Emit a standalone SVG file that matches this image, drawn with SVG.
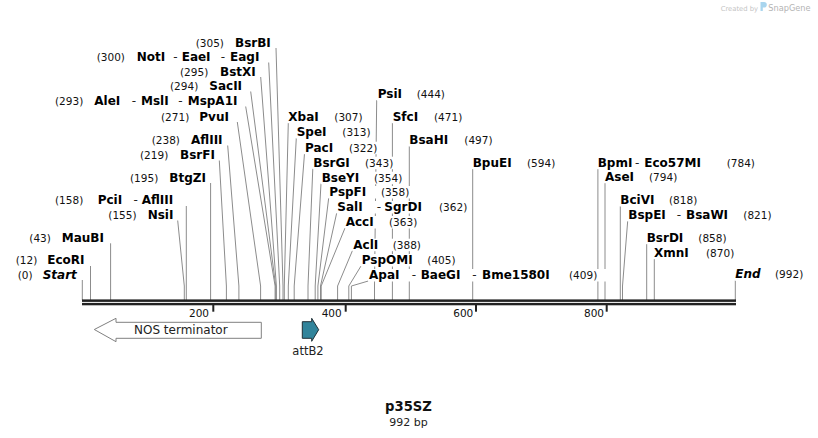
<svg xmlns="http://www.w3.org/2000/svg" width="818" height="438" viewBox="0 0 818 438">
<style>
.n{font-family:'DejaVu Sans',Verdana,sans-serif;font-weight:bold;font-size:12px;fill:#000}
.i{font-family:'DejaVu Sans',Verdana,sans-serif;font-weight:bold;font-style:italic;font-size:12px;fill:#000}
.p{font-family:'DejaVu Sans',Verdana,sans-serif;font-size:10.5px;fill:#111}
.d{font-family:'DejaVu Sans',Verdana,sans-serif;font-size:12px;fill:#222}
.bg{fill:#fff}
.c{fill:none;stroke:#8c8c8c;stroke-width:1}
.ax{fill:#222}
.tl{font-family:'DejaVu Sans',Verdana,sans-serif;font-size:10.5px;fill:#111;text-anchor:end}
</style>
<rect width="818" height="438" fill="#fff"/>

<g id="watermark">
<text x="720.7" y="10.5" font-family="'DejaVu Sans',sans-serif" font-size="6.8" fill="#c4c4c4">Created by</text>
<path d="M760.5 2 h3.5 a2.8 2.8 0 0 1 0 5.6 h-1.2 v3.4 h-2.3 z" fill="#a9d5ee"/>
<text x="768.3" y="11" font-family="'DejaVu Sans',sans-serif" font-size="8.2" fill="#b4b4b4">SnapGene</text>
</g>

<g id="connectors">
<polyline class="c" points="276,48 283,286 283,300"/>
<polyline class="c" points="268.7,62.5 279.7,286 279.7,300"/>
<polyline class="c" points="260.7,77 276.4,286 276.4,300"/>
<polyline class="c" points="250.7,91.5 275.7,286 275.7,300"/>
<polyline class="c" points="245.7,106.5 275.1,286 275.1,300"/>
<polyline class="c" points="237.3,122 260.6,286 260.6,300"/>
<polyline class="c" points="227.7,145.5 238.9,286 238.9,300"/>
<polyline class="c" points="219.3,160.5 226.4,286 226.4,300"/>
<polyline class="c" points="210.6,183 210.6,300"/>
<polyline class="c" points="186.3,206 186.3,300"/>
<polyline class="c" points="177.7,220.5 184.3,286 184.3,300"/>
<polyline class="c" points="110.6,243.3 110.6,300"/>
<polyline class="c" points="90.5,266 90.5,300"/>
<polyline class="c" points="82.3,280 82.3,300"/>
<polyline class="c" points="376.7,100 374.5,286 374.5,300"/>
<polyline class="c" points="288.3,122.7 284.3,286 284.3,300"/>
<polyline class="c" points="392.4,122.7 392.4,300"/>
<polyline class="c" points="296.3,138 288.3,286 288.3,300"/>
<polyline class="c" points="409.3,146 409.3,300"/>
<polyline class="c" points="304.5,153.5 294.2,286 294.2,300"/>
<polyline class="c" points="312.8,168.5 308,286 308,300"/>
<polyline class="c" points="472.7,168.5 472.7,300"/>
<polyline class="c" points="597.9,168.5 597.9,300"/>
<polyline class="c" points="321,183.5 315.2,286 315.2,300"/>
<polyline class="c" points="605,182.5 605,300"/>
<polyline class="c" points="328.7,198 317.9,286 317.9,300"/>
<polyline class="c" points="620.3,206 620.3,300"/>
<polyline class="c" points="336.7,213 320.5,286 320.5,300"/>
<polyline class="c" points="627.7,221 622.5,286 622.5,300"/>
<polyline class="c" points="345,228 321.2,286 321.2,300"/>
<polyline class="c" points="646.7,243.5 646.7,300"/>
<polyline class="c" points="352.5,250.5 337.6,286 337.6,300"/>
<polyline class="c" points="654.3,258.5 654.3,300"/>
<polyline class="c" points="361,266 348.8,286 348.8,300"/>
<polyline class="c" points="368.3,281 351.4,286 351.4,300"/>
<polyline class="c" points="735.3,280 735.3,300"/>
</g>

<g id="BsrBI"><rect class="bg" x="194.7" y="36.5" width="77" height="12.5"/><text class="p" x="195.7" y="46.5">(305)</text><text class="n" x="235" y="46.5">BsrBI</text></g>
<g id="NotI"><rect class="bg" x="95.7" y="51" width="168.6" height="12.5"/><text class="p" x="96.7" y="61">(300)</text><text class="n" x="136.7" y="61">NotI</text><text class="d" x="173.3" y="61">-</text><text class="n" x="181.7" y="61">EaeI</text><text class="d" x="220.7" y="61">-</text><text class="n" x="230" y="61">EagI</text></g>
<g id="BstXI"><rect class="bg" x="179" y="65.5" width="77.7" height="12.5"/><text class="p" x="180" y="75.5">(295)</text><text class="n" x="220" y="75.5">BstXI</text></g>
<g id="SacII"><rect class="bg" x="169" y="80" width="77" height="12.5"/><text class="p" x="170" y="90">(294)</text><text class="n" x="209.3" y="90">SacII</text></g>
<g id="AleI"><rect class="bg" x="54" y="95" width="189.3" height="12.5"/><text class="p" x="55" y="105">(293)</text><text class="n" x="94.3" y="105">AleI</text><text class="d" x="131.7" y="105">-</text><text class="n" x="141" y="105">MslI</text><text class="d" x="178.3" y="105">-</text><text class="n" x="187.7" y="105">MspA1I</text></g>
<g id="PvuI"><rect class="bg" x="160" y="110.5" width="72.7" height="12.5"/><text class="p" x="161" y="120.5">(271)</text><text class="n" x="199.3" y="120.5">PvuI</text></g>
<g id="AflIII"><rect class="bg" x="150.7" y="134" width="72" height="12.5"/><text class="p" x="151.7" y="144">(238)</text><text class="n" x="191" y="144">AflIII</text></g>
<g id="BsrFI"><rect class="bg" x="139" y="149" width="77" height="12.5"/><text class="p" x="140" y="159">(219)</text><text class="n" x="180" y="159">BsrFI</text></g>
<g id="BtgZI"><rect class="bg" x="129" y="171.7" width="78" height="12.5"/><text class="p" x="130" y="181.7">(195)</text><text class="n" x="169.3" y="181.7">BtgZI</text></g>
<g id="PciI"><rect class="bg" x="54" y="194.3" width="124.7" height="12.5"/><text class="p" x="55" y="204.3">(158)</text><text class="n" x="97.7" y="204.3">PciI</text><text class="d" x="133.5" y="204.3">-</text><text class="n" x="141.7" y="204.3">AflIII</text></g>
<g id="NsiI"><rect class="bg" x="107.3" y="209" width="67.7" height="12.5"/><text class="p" x="108.3" y="219">(155)</text><text class="n" x="147.7" y="219">NsiI</text></g>
<g id="MauBI"><rect class="bg" x="28.3" y="231.7" width="76.7" height="12.5"/><text class="p" x="29.3" y="241.7">(43)</text><text class="n" x="61.7" y="241.7">MauBI</text></g>
<g id="EcoRI"><rect class="bg" x="14.7" y="254" width="72.3" height="12.5"/><text class="p" x="15.7" y="264">(12)</text><text class="n" x="47.3" y="264">EcoRI</text></g>
<g id="Start"><rect class="bg" x="16.7" y="269" width="60" height="12.5"/><text class="p" x="17.7" y="279">(0)</text><text class="i" x="42.7" y="279">Start</text></g>

<g id="PsiI"><rect class="bg" x="376.7" y="88.3" width="69.3" height="12.5"/><text class="n" x="377.7" y="98.3">PsiI</text><text class="p" x="416.7" y="98.3">(444)</text></g>
<g id="XbaI"><rect class="bg" x="287.3" y="110.7" width="76.2" height="12.5"/><text class="n" x="288.3" y="120.7">XbaI</text><text class="p" x="334.3" y="120.7">(307)</text></g>
<g id="SfcI"><rect class="bg" x="391.7" y="110.7" width="71.5" height="12.5"/><text class="n" x="392.7" y="120.7">SfcI</text><text class="p" x="434" y="120.7">(471)</text></g>
<g id="SpeI"><rect class="bg" x="295.7" y="126" width="75.8" height="12.5"/><text class="n" x="296.7" y="136">SpeI</text><text class="p" x="342.3" y="136">(313)</text></g>
<g id="BsaHI"><rect class="bg" x="408.3" y="134" width="85.2" height="12.5"/><text class="n" x="409.3" y="144">BsaHI</text><text class="p" x="464.3" y="144">(497)</text></g>
<g id="PacI"><rect class="bg" x="304" y="141.7" width="74.2" height="12.5"/><text class="n" x="305" y="151.7">PacI</text><text class="p" x="349" y="151.7">(322)</text></g>
<g id="BsrGI"><rect class="bg" x="312.3" y="156.7" width="81.9" height="12.5"/><text class="n" x="313.3" y="166.7">BsrGI</text><text class="p" x="365" y="166.7">(343)</text></g>
<g id="BpuEI"><rect class="bg" x="471.7" y="156.7" width="84.5" height="12.5"/><text class="n" x="472.7" y="166.7">BpuEI</text><text class="p" x="527" y="166.7">(594)</text></g>
<g id="BpmI"><rect class="bg" x="596.7" y="156.7" width="159.3" height="12.5"/><text class="n" x="597.7" y="166.7">BpmI</text><text class="d" x="635" y="166.7">-</text><text class="n" x="644.3" y="166.7">Eco57MI</text><text class="p" x="726.7" y="166.7">(784)</text></g>
<g id="BseYI"><rect class="bg" x="320.7" y="171.7" width="82.5" height="12.5"/><text class="n" x="321.7" y="181.7">BseYI</text><text class="p" x="374" y="181.7">(354)</text></g>
<g id="AseI"><rect class="bg" x="604" y="170.7" width="74.2" height="12.5"/><text class="n" x="605" y="180.7">AseI</text><text class="p" x="649" y="180.7">(794)</text></g>
<g id="PspFI"><rect class="bg" x="328.3" y="186" width="81.9" height="12.5"/><text class="n" x="329.3" y="196">PspFI</text><text class="p" x="381" y="196">(358)</text></g>
<g id="BciVI"><rect class="bg" x="619.3" y="194" width="78.9" height="12.5"/><text class="n" x="620.3" y="204">BciVI</text><text class="p" x="669" y="204">(818)</text></g>
<g id="SalI"><rect class="bg" x="336.3" y="201" width="131.9" height="12.5"/><text class="n" x="337.3" y="211">SalI</text><text class="d" x="376.7" y="211">-</text><text class="n" x="384.3" y="211">SgrDI</text><text class="p" x="439" y="211">(362)</text></g>
<g id="BspEI"><rect class="bg" x="627.3" y="209" width="145.2" height="12.5"/><text class="n" x="628.3" y="219">BspEI</text><text class="d" x="676.7" y="219">-</text><text class="n" x="686" y="219">BsaWI</text><text class="p" x="743.3" y="219">(821)</text></g>
<g id="AccI"><rect class="bg" x="344.7" y="216" width="73.5" height="12.5"/><text class="n" x="345.7" y="226">AccI</text><text class="p" x="389" y="226">(363)</text></g>
<g id="BsrDI"><rect class="bg" x="645.7" y="231.7" width="81.8" height="12.5"/><text class="n" x="646.7" y="241.7">BsrDI</text><text class="p" x="698.3" y="241.7">(858)</text></g>
<g id="AclI"><rect class="bg" x="352.3" y="238.7" width="69.7" height="12.5"/><text class="n" x="353.3" y="248.7">AclI</text><text class="p" x="392.7" y="248.7">(388)</text></g>
<g id="XmnI"><rect class="bg" x="653" y="246.7" width="82.2" height="12.5"/><text class="n" x="654" y="256.7">XmnI</text><text class="p" x="706" y="256.7">(870)</text></g>
<g id="PspOMI"><rect class="bg" x="360.7" y="254" width="95.8" height="12.5"/><text class="n" x="361.7" y="264">PspOMI</text><text class="p" x="427.3" y="264">(405)</text></g>
<g id="ApaI"><rect class="bg" x="368" y="269" width="238" height="12.5"/><text class="n" x="369" y="279">ApaI</text><text class="d" x="411.7" y="279">-</text><text class="n" x="420.7" y="279">BaeGI</text><text class="d" x="472.3" y="279">-</text><text class="n" x="482" y="279">Bme1580I</text><text class="p" x="569" y="279">(409)</text></g>
<g id="End"><rect class="bg" x="734.3" y="268.3" width="69.9" height="12.5"/><text class="i" x="735.3" y="278.3">End</text><text class="p" x="775" y="278.3">(992)</text></g>

<g id="axis">
<rect class="ax" x="82" y="299.4" width="654" height="2.5"/>
<rect class="ax" x="82" y="302.9" width="654" height="2.4"/>
<rect class="ax" x="212.3" y="305" width="2" height="6.7"/>
<rect class="ax" x="344.7" y="305" width="2" height="6.7"/>
<rect class="ax" x="475" y="305" width="2" height="6.7"/>
<rect class="ax" x="605.7" y="305" width="2" height="6.7"/>
<text class="tl" x="209" y="316.5">200</text>
<text class="tl" x="341.7" y="316.5">400</text>
<text class="tl" x="473.3" y="316.5">600</text>
<text class="tl" x="604" y="316.5">800</text>
</g>

<g id="NOS_terminator">
<polygon points="94.3,329.5 116,318.3 116,322.3 261.3,322.3 261.3,338.3 116,338.3 116,341.7" fill="#fff" stroke="#808080" stroke-width="1"/>
<text x="134" y="333.6" font-family="'DejaVu Sans',Verdana,sans-serif" font-size="12" fill="#222">NOS terminator</text>
</g>

<g id="attB2">
<polygon points="302.3,321.7 311.7,321.7 311.7,318.3 318.7,329.7 311.7,341.3 311.7,338.3 302.3,338.3" fill="#31849b" stroke="#1f2f36" stroke-width="1"/>
<text x="308" y="355.3" text-anchor="middle" font-family="'DejaVu Sans',Verdana,sans-serif" font-size="11.5" fill="#222">attB2</text>
</g>

<g id="title">
<text x="408.5" y="411.3" text-anchor="middle" font-family="'DejaVu Sans',Verdana,sans-serif" font-weight="bold" font-size="13.2" fill="#111">p35SZ</text>
<text x="408.5" y="426.3" text-anchor="middle" font-family="'DejaVu Sans',Verdana,sans-serif" font-size="11" fill="#222">992 bp</text>
</g>
</svg>
